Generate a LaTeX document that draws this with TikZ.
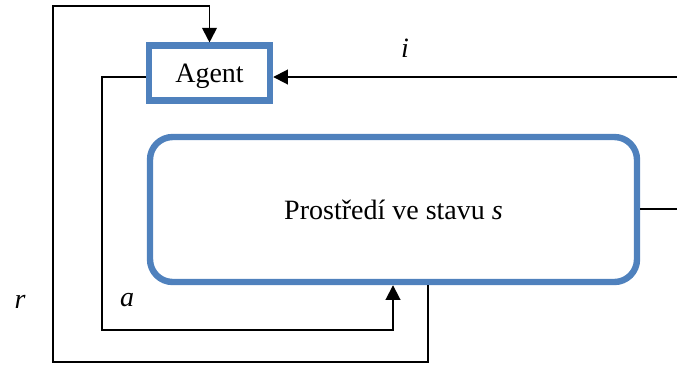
\documentclass[tikz,border=0pt]{standalone}
\usepackage{fontspec}
\setmainfont{Liberation Serif}
\usetikzlibrary{arrows.meta}
\definecolor{boxblue}{RGB}{79,129,189}
\begin{document}
\begin{tikzpicture}[x=0.75pt,y=-0.75pt,font=\fontsize{21}{25}\selectfont,
    >={Triangle[length=11pt,width=11pt]},
    blok/.style={draw=boxblue,line width=4.8pt},
    spoj/.style={line width=1.4pt}]
      \useasboundingbox (0,0) rectangle (677,365);
      \node[blok,minimum width=90.75pt,minimum height=41pt,text depth=0pt](agent) at (209.5,73) {Agent};
      \node[blok,rounded corners=17pt,minimum width=365.25pt,minimum height=108.75pt](env) at (393.5,209.5) {Prostředí ve stavu \textit{s}};
      \coordinate (iin) at (677,77);
      \coordinate (ven) at (677,209);
      \coordinate (aleft) at (102,330);
      \coordinate (abot) at (393,330);
      \coordinate (rbot) at (428,362);
      \coordinate (rleft) at (53,362);
      \coordinate (rtop) at (53,6);
      \node(ilab) at (405,48) {\textit{i}};
      \node(alab) at (127,300) {\textit{a}};
      \node(rlab) at (20,302) {\textit{r}};
      \draw[spoj,->](iin) -- (iin -| agent.east);
      \draw[spoj](ven -| env.east) -- (ven);
      \draw[spoj,->](agent.west |- iin) -| (aleft) -- (abot) -- (abot |- env.south);
      \draw[spoj,->](rbot |- env.south) -- (rbot) -- (rleft) -- (rtop) -| (agent.north);
    \end{tikzpicture}
\end{document}
